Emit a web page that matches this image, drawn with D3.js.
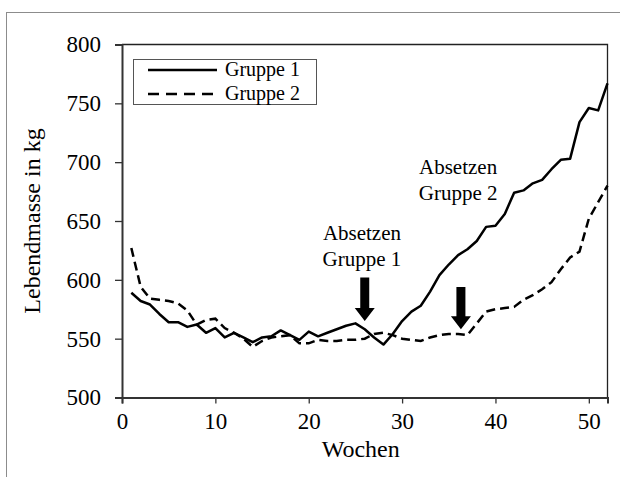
<!DOCTYPE html>
<html><head><meta charset="utf-8">
<script src="https://cdn.jsdelivr.net/npm/d3@7"></script>
<style>
body{margin:0;background:#fff;}
text{font-family:"Liberation Serif","Times New Roman",serif;fill:#000;}
</style></head>
<body>
<svg id="c" width="620" height="477"></svg>
<script>
const weeks = d3.range(1, 53);
const gruppe1 = [589,582,579,571,564,564,560,562,555,559,551,555,551,547,551,552,557,553,549,556,552,555,558,561,563,558,551,545,554,565,573,578,590,604,613,621,626,633,645,646,656,674,676,682,685,694,702,703,734,746,744,767];
const gruppe2 = [627,594,584,583,582,580,574,562,566,567,559,555,550,543,548,551,552,553,546,546,549,548,548,549,549,550,554,555,553,550,549,548,551,553,554,554,553,563,573,575,576,577,583,587,592,598,609,619,624,652,666,680];
const seriesNames = ["Gruppe 1", "Gruppe 2"];
const yTicks = [500,550,600,650,700,750,800];
const xTicks = [0,10,20,30,40,50];
const annotations = [
  {week:26, top:602, tip:565, lines:["Absetzen","Gruppe 1"], textWeek:25.7, textVal:[634,612]},
  {week:36.3, top:594, tip:558, lines:["Absetzen","Gruppe 2"], textWeek:36, textVal:[690,668]}
];

const svg = d3.select("#c");
const m = {l:122, t:44.5, r:607.5, b:397.5};
const x = d3.scaleLinear().domain([0,52]).range([m.l, m.r]);
const y = d3.scaleLinear().domain([500,800]).range([m.b, m.t]);

// outer frame
svg.append("rect").attr("x",6.5).attr("y",12.5).attr("width",640).attr("height",500)
  .attr("fill","none").attr("stroke","#8c8c8c").attr("stroke-width",1);

// plot frame top/right
svg.append("path").attr("d",`M${m.l},${m.t}H${m.r}V${m.b}`).attr("fill","none").attr("stroke","#222").attr("stroke-width",1.3);

const fsTick = 23, fsTitle = 24, fsLeg = 20, fsAnn = 21;
const yAxis = svg.append("g").attr("transform",`translate(${m.l},0)`)
  .call(d3.axisLeft(y).tickValues(yTicks).tickSize(7).tickPadding(14).tickFormat(d3.format("d")));
const xAxis = svg.append("g").attr("transform",`translate(0,${m.b})`)
  .call(d3.axisBottom(x).tickValues(xTicks).tickSize(6).tickPadding(9).tickFormat(d3.format("d")));
[yAxis,xAxis].forEach(g=>{
  g.select(".domain").attr("stroke","#333").attr("stroke-width",2);
  g.selectAll(".tick line").attr("stroke","#333").attr("stroke-width",1.3);
  g.selectAll("text").attr("font-size",fsTick).attr("font-family","Liberation Serif").attr("fill","#000");
});

// axis titles
svg.append("text").attr("x",(m.l+m.r)/2 - 4).attr("y",457).attr("text-anchor","middle").attr("font-size",fsTitle).text("Wochen");
svg.append("text").attr("transform",`translate(40,${(m.t+m.b)/2}) rotate(-90)`).attr("text-anchor","middle").attr("font-size",fsTitle).text("Lebendmasse in kg");

// lines
const line = d3.line().x((d,i)=>x(weeks[i])).y(d=>y(d));
svg.append("path").datum(gruppe1).attr("d",line).attr("fill","none").attr("stroke","#000").attr("stroke-width",2.5).attr("stroke-linejoin","round");
svg.append("path").datum(gruppe2).attr("d",line).attr("fill","none").attr("stroke","#000").attr("stroke-width",2.5).attr("stroke-dasharray","9,5");

// legend
const lg = svg.append("g");
lg.append("rect").attr("x",133.5).attr("y",59.5).attr("width",183).attr("height",45).attr("fill","#fff").attr("stroke","#555").attr("stroke-width",1);
seriesNames.forEach((n,i)=>{
  const yy = 70 + i*24;
  lg.append("line").attr("x1",148).attr("x2",217).attr("y1",yy).attr("y2",yy).attr("stroke","#000").attr("stroke-width",2.5)
    .attr("stroke-dasharray", i? "11,7": null);
  lg.append("text").attr("x",225).attr("y",yy+6).attr("font-size",fsLeg).text(n);
});

// annotations
annotations.forEach(a=>{
  const cx = x(a.week), yt = y(a.top), yp = y(a.tip);
  svg.append("path").attr("d",`M${cx-4.5},${yt}H${cx+4.5}V${yp-13}H${cx+10}L${cx},${yp}L${cx-10},${yp-13}H${cx-4.5}Z`).attr("fill","#000");
  a.lines.forEach((t,i)=>{
    svg.append("text").attr("x",x(a.textWeek)).attr("y",y(a.textVal[i])).attr("text-anchor","middle").attr("font-size",fsAnn).text(t);
  });
});
</script>
</body></html>
